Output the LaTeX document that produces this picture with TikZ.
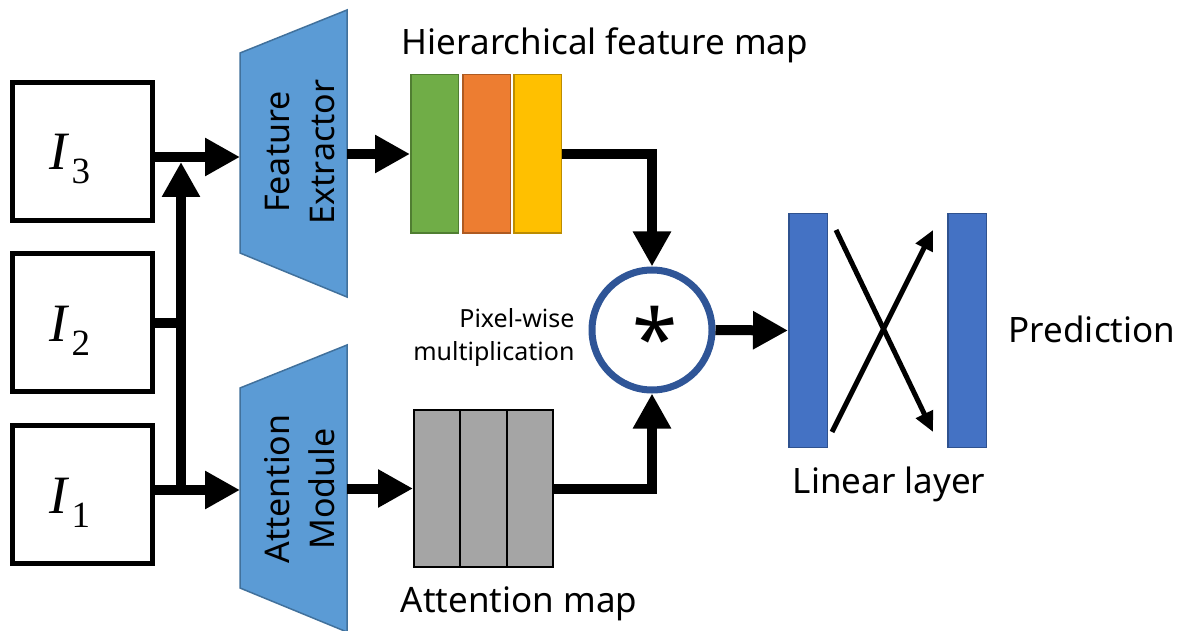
\documentclass[tikz,border=0pt]{standalone}
\usepackage{fontspec}
\setmainfont{Noto Sans}
\newfontfamily\serifmath{Liberation Serif}
\usetikzlibrary{arrows.meta,calc}

\definecolor{trapfill}{HTML}{5B9BD5}
\definecolor{trapedge}{HTML}{41719C}
\definecolor{fgreen}{HTML}{70AD47}
\definecolor{fgreenedge}{HTML}{507E32}
\definecolor{forange}{HTML}{ED7D31}
\definecolor{forangeedge}{HTML}{AE5A21}
\definecolor{fyellow}{HTML}{FFC000}
\definecolor{fyellowedge}{HTML}{BC8C00}
\definecolor{attgray}{HTML}{A5A5A5}
\definecolor{ringblue}{HTML}{2F5597}
\definecolor{barblue}{HTML}{4472C4}
\definecolor{baredge}{HTML}{2F528F}

% italic I with a lowered index digit
\newcommand{\imglabel}[1]{{\serifmath\itshape I}\kern4pt\raisebox{-14pt}{\fontsize{37}{40}\selectfont\serifmath #1}}

\begin{document}
\begin{tikzpicture}[x=1pt,y=-1pt,
  flow/.style={line width=10pt,-{Triangle[length=35pt,width=36pt]}},
  plainline/.style={line width=10pt},
  inbox/.style={draw,line width=5pt,minimum width=140pt,minimum height=138pt,inner sep=0pt},
  ilabel/.style={font=\fontsize{54}{58}\selectfont,anchor=base},
  anchorbox/.style={minimum width=107pt,minimum height=200pt,inner sep=0pt,outer sep=0pt},
  traptext/.style={rotate=90,align=center,font=\fontsize{34}{45}\selectfont},
  fmap/.style={line width=1.5pt,minimum width=47.5pt,minimum height=158.5pt,inner sep=0pt},
  bar/.style={fill=barblue,draw=baredge,line width=1.5pt,minimum width=38.5pt,minimum height=233.5pt,inner sep=0pt},
  caption/.style={font=\fontsize{35}{42}\selectfont,anchor=base},
  thinarrow/.style={line width=5pt,-{Triangle[length=20pt,width=18pt]}}
]
\fill[white] (0,0) rectangle (1181,631);
\useasboundingbox (0,0) rectangle (1181,631);

% input images
\node[inbox] (i3) at (82.5,151.5) {};
\node[inbox] (i2) at (82.5,322.5) {};
\node[inbox] (i1) at (82.5,494.5) {};
\node[ilabel] (t3) at (70,170) {\imglabel{3}};
\node[ilabel] (t2) at (70,341) {\imglabel{2}};
\node[ilabel] (t1) at (70,513) {\imglabel{1}};

% feature extractor and attention module
\filldraw[fill=trapfill,draw=trapedge,line width=1.5pt]
  (240,53) -- (347,10) -- (347,297) -- (240,253) -- cycle;
\filldraw[fill=trapfill,draw=trapedge,line width=1.5pt]
  (240,388) -- (347,345) -- (347,632) -- (240,588) -- cycle;
\node[anchorbox] (fe) at (293.5,153.5) {};
\node[anchorbox] (amod) at (293.5,488.5) {};
\node[traptext] (fetext) at (300,152) {Feature\\Extractor};
\node[traptext] (amtext) at (300,489) {Attention\\Module};

% hierarchical feature map
\node[fmap,fill=fgreen,draw=fgreenedge] (fm1) at (434.5,154) {};
\node[fmap,fill=forange,draw=forangeedge] (fm2) at (486.5,154) {};
\node[fmap,fill=fyellow,draw=fyellowedge] (fm3) at (537.5,154) {};
\node[caption] (fmcap) at (605,55) {Hierarchical feature map};

% attention map
\node[fill=attgray,draw=black,line width=2pt,minimum width=139pt,minimum height=157pt,inner sep=0pt] (am) at (483.5,488.5) {};
\draw[line width=2pt] ($(am.north west)!1/3!(am.north east)$) -- ($(am.south west)!1/3!(am.south east)$);
\draw[line width=2pt] ($(am.north west)!2/3!(am.north east)$) -- ($(am.south west)!2/3!(am.south east)$);
\node[caption] (amcap) at (519,612) {Attention map};

% pixel-wise multiplication
\node[circle,draw=ringblue,fill=white,line width=7pt,minimum size=120pt,inner sep=0pt] (mul) at (652,330) {};
\node[font=\bfseries\fontsize{82}{82}\selectfont,anchor=base] (star) at ([xshift=3pt,yshift=-38pt]mul.center) {*};
\node[anchor=east,align=right,font=\fontsize{25}{33}\selectfont] (multext) at (578,337) {Pixel-wise\\multiplication};

% linear layer
\node[bar] (l1) at (808,330.5) {};
\node[bar] (l2) at (967,330.5) {};
\node[caption] (llcap) at (889,493) {Linear layer};
\node[caption] (pred) at (1092,342) {Prediction};
\draw[thinarrow] ($(l1.north east)+(8,17)$) -- ($(l2.south west)+(-14,-16)$);
\draw[thinarrow] ($(l1.south east)+(4,-16)$) -- ($(l2.north west)+(-14,17)$);

% connectors
\coordinate (jn) at (181,0);
\draw[flow] ([yshift=-5.5pt]i3.east) -- ([yshift=-5.5pt]i3.east -| fe.west);
\draw[plainline] (i2.east) -- (i2.east -| jn);
\draw[flow] ([yshift=4.5pt]i1.east) -- ([yshift=4.5pt]i1.east -| amod.west);
\draw[flow,shorten >=5pt] ([yshift=4.5pt]i1.east -| jn) -- ([yshift=-5.5pt]i3.east -| jn);
\draw[flow] (fe.east |- fm1.west) -- (fm1.west);
\draw[flow] (amod.east |- am.west) -- (am.west);
\draw[flow] (fm3.east) -| (mul.north);
\draw[flow] (am.east) -| (mul.south);
\draw[flow] (mul.east) -- (l1.west);
\end{tikzpicture}
\end{document}
